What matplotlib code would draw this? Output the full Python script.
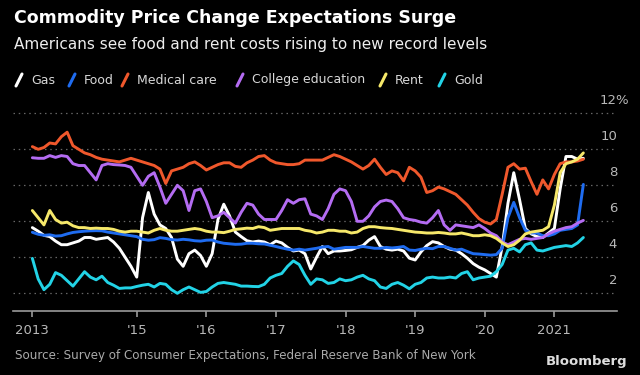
import matplotlib
matplotlib.use('Agg')
import matplotlib.pyplot as plt
from matplotlib.lines import Line2D

# Expectativas de preco (%), mensal, jul/2013 - mai/2021
inicio = 2013.5
gas = [5.65, 5.45, 5.22, 5.15, 4.9, 4.7, 4.7, 4.8, 4.9, 5.1, 5.1, 5.0, 5.05, 5.1, 4.85, 4.5,
       4.0, 3.5, 2.9, 6.2, 7.6, 6.4, 5.8, 5.6, 5.1, 3.9, 3.5, 4.2, 4.4, 4.1, 3.5, 4.2,
       6.1, 6.95, 6.3, 5.4, 5.15, 4.92, 4.85, 4.9, 4.85, 4.7, 4.9, 4.8, 4.55, 4.35, 4.4, 4.2,
       3.35, 4.0, 4.6, 4.2, 4.35, 4.35, 4.38, 4.42, 4.55, 4.65, 4.95, 5.15, 4.6, 4.45, 4.4, 4.45,
       4.35, 3.95, 3.85, 4.3, 4.65, 4.87, 4.8, 4.6, 4.45, 4.4, 4.2, 3.95, 3.65, 3.45, 3.3, 3.1,
       2.9, 4.6, 7.0, 8.7, 7.2, 5.6, 5.3, 5.15, 5.1, 5.35, 5.6, 7.8, 9.6, 9.6, 9.45, 9.5]
food = [5.39, 5.28, 5.22, 5.25, 5.18, 5.2, 5.3, 5.38, 5.42, 5.45, 5.47, 5.48, 5.47, 5.4, 5.35, 5.3,
        5.25, 5.2, 5.15, 5.0, 4.95, 4.98, 5.09, 5.05, 4.98, 4.96, 5.0, 4.97, 4.92, 4.9, 4.95, 4.96,
        4.85, 4.78, 4.75, 4.72, 4.73, 4.78, 4.78, 4.75, 4.74, 4.67, 4.6, 4.52, 4.45, 4.4, 4.45, 4.4,
        4.45, 4.5, 4.57, 4.6, 4.45, 4.5, 4.55, 4.55, 4.55, 4.6, 4.55, 4.5, 4.5, 4.55, 4.52, 4.55,
        4.6, 4.4, 4.38, 4.45, 4.5, 4.48, 4.6, 4.6, 4.5, 4.4, 4.45, 4.32, 4.2, 4.18, 4.15, 4.12,
        4.15, 4.5, 6.2, 7.05, 6.2, 5.5, 5.35, 5.35, 5.2, 5.2, 5.3, 5.5, 5.55, 5.6, 5.8, 8.05]
medical = [10.15, 10.0, 10.1, 10.35, 10.3, 10.7, 10.95, 10.2, 10.0, 9.8, 9.7, 9.55, 9.45, 9.4, 9.35, 9.3,
           9.4, 9.5, 9.4, 9.3, 9.2, 9.1, 8.9, 8.1, 8.8, 8.9, 9.0, 9.2, 9.3, 9.1, 8.85, 9.0,
           9.15, 9.25, 9.25, 9.05, 9.0, 9.25, 9.4, 9.6, 9.65, 9.4, 9.25, 9.2, 9.15, 9.15, 9.2, 9.4,
           9.4, 9.4, 9.4, 9.55, 9.7, 9.6, 9.45, 9.3, 9.1, 8.9, 9.1, 9.45, 9.0, 8.6, 8.8, 8.7,
           8.25, 9.0, 8.8, 8.45, 7.6, 7.7, 7.9, 7.8, 7.65, 7.5, 7.2, 6.9, 6.5, 6.15, 5.95, 5.85,
           6.1, 7.5, 9.0, 9.2, 8.9, 8.95, 8.2, 7.5, 8.3, 7.8, 8.6, 9.2, 9.3, 9.3, 9.35, 9.45]
college = [9.53, 9.5, 9.5, 9.65, 9.55, 9.65, 9.6, 9.2, 9.1, 9.1, 8.7, 8.3, 9.1, 9.2, 9.15, 9.13,
           9.1, 9.0, 8.5, 8.0, 8.5, 8.7, 7.9, 7.0, 7.5, 8.0, 7.7, 6.6, 7.7, 7.8, 7.1, 6.2,
           6.3, 6.5, 6.2, 5.9, 6.5, 7.0, 6.9, 6.4, 6.1, 6.1, 6.1, 6.6, 7.2, 7.0, 7.2, 7.25,
           6.4, 6.3, 6.1, 6.7, 7.5, 7.8, 7.7, 7.1, 6.0, 6.0, 6.3, 6.8, 7.1, 7.18, 7.1, 6.7,
           6.2, 6.1, 6.05, 5.95, 5.9, 6.2, 6.6, 5.8, 5.5, 5.8, 5.75, 5.7, 5.65, 5.8, 5.6, 5.35,
           5.2, 4.85, 4.7, 4.85, 5.0, 5.05, 5.0, 5.05, 5.1, 5.3, 5.45, 5.55, 5.65, 5.7, 5.9, 6.05]
rent = [6.6, 6.2, 5.8, 6.6, 6.1, 5.9, 5.95, 5.75, 5.65, 5.65, 5.6, 5.62, 5.6, 5.6, 5.55, 5.45,
        5.4, 5.45, 5.45, 5.4, 5.35, 5.5, 5.6, 5.5, 5.45, 5.45, 5.5, 5.55, 5.6, 5.55, 5.45, 5.4,
        5.4, 5.37, 5.45, 5.55, 5.58, 5.62, 5.6, 5.7, 5.65, 5.5, 5.55, 5.6, 5.6, 5.6, 5.6, 5.5,
        5.45, 5.35, 5.4, 5.5, 5.5, 5.45, 5.45, 5.35, 5.4, 5.6, 5.7, 5.7, 5.65, 5.62, 5.6, 5.55,
        5.5, 5.45, 5.4, 5.38, 5.35, 5.35, 5.38, 5.35, 5.3, 5.3, 5.35, 5.28, 5.2, 5.2, 5.25, 5.2,
        5.05, 4.8, 4.6, 4.7, 4.95, 5.3, 5.4, 5.45, 5.5, 5.7, 6.9, 8.7, 9.2, 9.3, 9.45, 9.8]
gold = [3.94, 2.8, 2.2, 2.5, 3.15, 3.0, 2.7, 2.4, 2.8, 3.2, 2.9, 2.75, 2.95, 2.6, 2.45, 2.27,
        2.3, 2.3, 2.38, 2.45, 2.5, 2.35, 2.55, 2.5, 2.2, 2.0, 2.2, 2.35, 2.2, 2.05, 2.1, 2.35,
        2.55, 2.6, 2.55, 2.5, 2.4, 2.4, 2.38, 2.37, 2.5, 2.85, 3.0, 3.1, 3.5, 3.8, 3.6, 3.0,
        2.5, 2.8, 2.75, 2.55, 2.6, 2.8, 2.7, 2.75, 2.9, 3.0, 2.8, 2.7, 2.35, 2.27, 2.5, 2.6,
        2.45, 2.25, 2.5, 2.6, 2.85, 2.9, 2.85, 2.85, 2.9, 2.85, 3.1, 3.2, 2.75, 2.85, 2.9, 2.95,
        3.2, 3.6, 4.4, 4.5, 4.3, 4.7, 4.8, 4.4, 4.35, 4.45, 4.55, 4.6, 4.65, 4.6, 4.8, 5.1]

nomes = ['Gas', 'Food', 'Medical care', 'College education', 'Rent', 'Gold']
cores = ['#ffffff', '#1f6cf0', '#f0582c', '#b46cf2', '#f6e86a', '#22d3e6']
series = [gas, food, medical, college, rent, gold]

anos_ticks = [2013.5, 2015, 2016, 2017, 2018, 2019, 2020, 2021]
anos_labels = ['2013', "'15", "'16", "'17", "'18", "'19", "'20", '2021']
y_ticks = [2, 4, 6, 8, 10, 12]

meses = [inicio + i / 12 for i in range(len(gas))]

plt.rcParams['font.family'] = 'DejaVu Sans'
fig = plt.figure(figsize=(6.4, 3.75), dpi=100, facecolor='black')
ax = fig.add_axes([13 / 640, 1 - 311.3 / 375, 604 / 640, 201.6 / 375])
ax.set_facecolor('black')

for s, c in zip(series, cores):
    ax.plot(meses, s, color=c, lw=2.1, solid_capstyle='round', solid_joinstyle='round')

ax.set_xlim(2013.222, 2021.9)
ax.set_ylim(1, 12.2)

for v in y_ticks:
    ax.axhline(v, color='#666666', lw=0.9, ls=(0, (1.2, 3)), zorder=0)
    rotulo = '12%' if v == 12 else str(v)
    desloc = 9 if v == 12 else 0  # o % fica para fora, como no original
    ax.annotate(rotulo, xy=(1.0, v + 0.72), xycoords=ax.get_yaxis_transform(),
                xytext=(desloc, 0), textcoords='offset points', ha='right',
                va='center', color='#b8b8b8', fontsize=9.5, annotation_clip=False)

for lado in ['top', 'right', 'left']:
    ax.spines[lado].set_visible(False)
ax.spines['bottom'].set_color('#9a9a9a')
ax.spines['bottom'].set_linewidth(1.2)
ax.set_yticks([])
ax.set_xticks(anos_ticks)
ax.set_xticklabels(anos_labels)
ax.tick_params(axis='x', colors='#9a9a9a', labelcolor='#b8b8b8', length=4, width=1.2,
               pad=5, labelsize=9.5)

# titulo e subtitulo
fig.text(14 / 640, 1 - 18 / 375, 'Commodity Price Change Expectations Surge', color='white',
         fontsize=12.5, fontweight='bold', va='center', ha='left')
fig.text(14 / 640, 1 - 45 / 375, 'Americans see food and rent costs rising to new record levels',
         color='#eeeeee', fontsize=11, va='center', ha='left')

# legenda com tracinhos inclinados
leg_x = [16, 69, 122, 237, 380, 439]
for x0, nome, c in zip(leg_x, nomes, cores):
    fig.add_artist(Line2D([x0 / 640, (x0 + 6) / 640], [1 - 86 / 375, 1 - 74 / 375],
                          color=c, lw=2.2, solid_capstyle='round'))
    fig.text((x0 + 15) / 640, 1 - 80 / 375, nome, color='#d8d8d8', fontsize=9,
             va='center', ha='left')

fig.text(15 / 640, 1 - 356 / 375,
         'Source: Survey of Consumer Expectations, Federal Reserve Bank of New York',
         color='#aaaaaa', fontsize=8.6, va='center', ha='left')
fig.text(627 / 640, 1 - 362 / 375, 'Bloomberg', color='#dddddd', fontsize=9.5,
         fontweight='bold', va='center', ha='right')

fig.savefig('out.png', dpi=100, facecolor='black')
